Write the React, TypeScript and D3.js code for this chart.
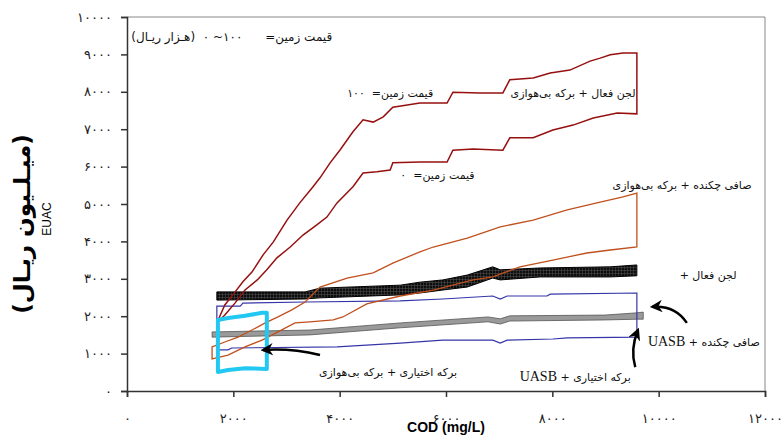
import * as d3 from 'd3';
import React, { useRef, useEffect } from 'react';

type Pt = [number, number];

// COD (mg/L) vs EUAC (million rials)
const redUpper: Pt[] = [[1690,1820],[1840,2300],[1990,2570],[2180,2920],[2350,3180],[2560,3640],[2750,3980],[3010,4570],[3250,5030],[3480,5430],[3630,5700],[3820,6100],[4010,6450],[4250,6930],[4440,7250],[4630,7190],[4820,7330],[5000,7590],[5270,7650],[5510,7700],[6020,7700],[6130,7990],[6640,7970],[7070,7970],[7200,8320],[7640,8370],[7960,8500],[8330,8580],[8710,8820],[8900,8900],[9090,8990],[9330,9040],[9590,9040]];
const redLower: Pt[] = [[1690,1820],[1840,2030],[2030,2350],[2220,2700],[2450,2970],[2630,3240],[2820,3560],[3070,3850],[3310,4170],[3570,4440],[3760,4650],[3950,5030],[4250,5460],[4440,5830],[4700,5860],[4950,5910],[5000,6100],[5510,6120],[6020,6120],[6130,6440],[6510,6470],[7070,6440],[7200,6770],[7640,6770],[8010,6980],[8390,7110],[8770,7300],[9220,7430],[9590,7410]];
const orangeUpper: Pt[] = [[1600,1180],[1840,1310],[2090,1440],[2350,1630],[2600,1820],[2840,1980],[3100,2170],[3350,2380],[3630,2780],[4140,3020],[4630,3160],[5000,3420],[5510,3720],[5760,3850],[6400,4090],[7020,4390],[7640,4570],[8280,4840],[8900,5050],[9330,5190],[9590,5290]];
const orangeLower: Pt[] = [[1600,860],[1900,960],[2220,1180],[2540,1360],[2840,1580],[3160,1820],[3440,1850],[3880,1900],[4060,1980],[4510,2330],[5140,2540],[5760,2700],[6510,2970],[6880,3050],[7390,3320],[8010,3500],[8650,3690],[9090,3770],[9590,3850]];
const blackUpper: Pt[] = [[1690,2650],[3350,2650],[3630,2750],[5140,2830],[5510,2910],[5940,2970],[6400,3100],[6880,3320],[7020,3240],[7770,3290],[9090,3320],[9590,3370]];
const blackLower: Pt[] = [[1690,2430],[3350,2460],[3630,2490],[5140,2570],[5510,2620],[5940,2700],[6400,2780],[6880,3020],[7020,2970],[7770,3050],[9090,3050],[9590,3080]];
const grayUpper: Pt[] = [[1600,1580],[3440,1630],[5140,1820],[6790,1980],[7020,1930],[7200,2010],[8990,2030],[9590,2090],[9710,2110]];
const grayLower: Pt[] = [[1600,1440],[3440,1500],[5140,1690],[6790,1850],[7020,1790],[7200,1870],[8990,1900],[9590,1920],[9710,1920]];
const blueUpper: Pt[] = [[1690,2270],[2130,2270],[2180,2350],[3350,2380],[5140,2410],[5940,2460],[6880,2540],[7020,2460],[7150,2540],[7900,2540],[7960,2590],[9590,2620]];
const blueLower: Pt[] = [[1690,1100],[1900,1100],[1970,1150],[3950,1180],[5140,1280],[5940,1360],[6880,1360],[7020,1280],[7150,1360],[8010,1390],[8280,1420],[9590,1440]];
const cyanUpper: Pt[] = [[1710,1900],[1900,1950],[2220,2010],[2540,2090],[2630,2090]];
const cyanLower: Pt[] = [[1710,510],[1900,560],[2220,610],[2630,590]];

const yTicks = d3.range(0, 10001, 1000);
const xTicks = d3.range(0, 12001, 2000);

const sp = '\u00A0';
// annotation texts, anchored in data coordinates
const labels: { text: string; x: number; y: number; size?: number; uasb?: boolean }[] = [
  { text: `قیمت زمین=${sp.repeat(6)}۱۰۰~${sp}۰${sp}${sp}(هـزار ریـال)`, x: 1970, y: 9360, size: 12 },
  { text: `قیمت زمین=${sp}${sp}۱۰۰`, x: 4950, y: 7860 },
  { text: 'لجن فعال + برکه بی‌هوازی', x: 8390, y: 7860 },
  { text: `قیمت زمین=${sp}${sp}۰`, x: 5840, y: 5670 },
  { text: 'صافی چکنده + برکه بی‌هوازی', x: 10440, y: 5400 },
  { text: 'لجن فعال +', x: 10930, y: 3000 },
  { text: 'صافی چکنده + ', x: 10850, y: 1200, uasb: true },
  { text: 'برکه اختیاری + ', x: 8430, y: 270, uasb: true },
  { text: 'برکه اختیاری + برکه بی‌هوازی', x: 4910, y: 400 },
];

// arrows: tail, control, head
const arrows: [Pt, Pt, Pt][] = [
  [[3630, 963], [3066, 1150], [2558, 1096]],
  [[10530, 1820], [10310, 2300], [9880, 2250]],
  [[9560, 640], [9460, 1096], [9610, 1630]],
];

const faDigits = (s: string) => s.replace(/\d/g, (d) => '۰۱۲۳۴۵۶۷۸۹'[+d]);

const App: React.FC = () => {
  const svgRef = useRef<SVGSVGElement | null>(null);

  useEffect(() => {
    document.body.style.margin = '0';
    const width = 783;
    const height = 435;
    const svg = d3.select(svgRef.current).attr('width', width).attr('height', height);
    svg.selectAll('*').remove();
    svg.append('rect').attr('width', width).attr('height', height).attr('fill', '#fff');

    const x = d3.scaleLinear().domain([0, 12000]).range([127, 765]);
    const y = d3.scaleLinear().domain([0, 10000]).range([391, 17]);

    const defs = svg.append('defs');
    const pat = defs.append('pattern').attr('id', 'grid').attr('width', 3).attr('height', 3)
      .attr('patternUnits', 'userSpaceOnUse');
    pat.append('rect').attr('width', 3).attr('height', 3).attr('fill', '#0d0d0d');
    pat.append('path').attr('d', 'M0,0.5H3M0.5,0V3').attr('stroke', '#4a4a4a').attr('stroke-width', 0.6);
    defs.append('marker').attr('id', 'head').attr('viewBox', '0 0 10 10').attr('refX', 8).attr('refY', 5)
      .attr('markerWidth', 5).attr('markerHeight', 5).attr('orient', 'auto')
      .append('path').attr('d', 'M0,0L10,5L0,10L3,5Z').attr('fill', '#000');

    // frame
    svg.append('path').attr('d', `M${x(0)},${y(10000)}H${x(12000)}V${y(0)}`)
      .attr('fill', 'none').attr('stroke', '#888').attr('stroke-width', 1);

    const line = d3.line<Pt>().x((d) => x(d[0])).y((d) => y(d[1]));
    const band = (up: Pt[], lo: Pt[]) => line([...up, ...lo.slice().reverse()]) + 'Z';

    const g = svg.append('g');
    g.append('path').attr('d', band(grayUpper, grayLower)).attr('fill', '#9a9a9a')
      .attr('stroke', '#555').attr('stroke-width', 0.8);
    g.append('path').attr('d', band(blueUpper, blueLower)).attr('fill', 'none')
      .attr('stroke', '#3535a8').attr('stroke-width', 1.2);
    g.append('path').attr('d', band(blackUpper, blackLower)).attr('fill', 'url(#grid)')
      .attr('stroke', '#000').attr('stroke-width', 1);
    g.append('path').attr('d', band(orangeUpper, orangeLower)).attr('fill', 'none')
      .attr('stroke', '#c0501e').attr('stroke-width', 1.3);
    g.append('path').attr('d', band(redUpper, redLower)).attr('fill', 'none')
      .attr('stroke', '#961010').attr('stroke-width', 1.5);
    g.append('path').attr('d', band(cyanUpper, cyanLower)).attr('fill', 'none')
      .attr('stroke', '#22c8f2').attr('stroke-width', 4).attr('stroke-linejoin', 'round');

    // axes
    const yAxis = svg.append('g').attr('transform', `translate(${x(0)},0)`)
      .call(d3.axisLeft(y).tickValues(yTicks).tickSize(6).tickPadding(9)
        .tickFormat((d) => faDigits(String(d))));
    const xAxis = svg.append('g').attr('transform', `translate(0,${y(0)})`)
      .call(d3.axisBottom(x).tickValues(xTicks).tickSize(6).tickPadding(17)
        .tickFormat((d) => faDigits(String(d))));
    [yAxis, xAxis].forEach((a) => {
      a.selectAll('path,line').attr('stroke', '#333').attr('stroke-width', 1.5);
      a.selectAll('text').attr('font-family', 'DejaVu Sans').attr('font-size', 13)
        .attr('letter-spacing', 1.5).attr('fill', '#222');
    });

    svg.append('text').attr('x', x(6000)).attr('y', 432).attr('text-anchor', 'middle')
      .attr('font-family', 'Liberation Sans, Arial').attr('font-weight', 'bold').attr('font-size', 14)
      .text('COD (mg/L)');

    svg.append('text').attr('transform', 'translate(30,224) rotate(-90)').attr('text-anchor', 'middle')
      .attr('direction', 'rtl').attr('font-family', 'DejaVu Sans').attr('font-weight', 'bold')
      .attr('font-size', 23).attr('letter-spacing', 3).text('(میـلـیون ریـال)');
    svg.append('text').attr('transform', 'translate(51,219) rotate(-90)').attr('text-anchor', 'middle')
      .attr('font-family', 'Liberation Sans, Arial').attr('font-size', 12).text('EUAC');

    // annotations
    labels.forEach((l) => {
      const t = svg.append('text').attr('x', x(l.x)).attr('y', y(l.y)).attr('text-anchor', 'middle')
        .attr('direction', 'rtl').attr('font-family', 'DejaVu Sans').attr('font-size', l.size ?? 11)
        .attr('fill', '#111');
      t.append('tspan').text(l.text);
      if (l.uasb) t.append('tspan').attr('font-family', 'Liberation Serif').attr('font-size', 14).text('UASB');
    });

    arrows.forEach(([a, c, b]) => {
      svg.append('path')
        .attr('d', `M${x(a[0])},${y(a[1])}Q${x(c[0])},${y(c[1])} ${x(b[0])},${y(b[1])}`)
        .attr('fill', 'none').attr('stroke', '#000').attr('stroke-width', 2.5)
        .attr('marker-end', 'url(#head)');
    });
  }, []);

  return <svg ref={svgRef} style={{ display: 'block' }}></svg>;
};

export default App;
